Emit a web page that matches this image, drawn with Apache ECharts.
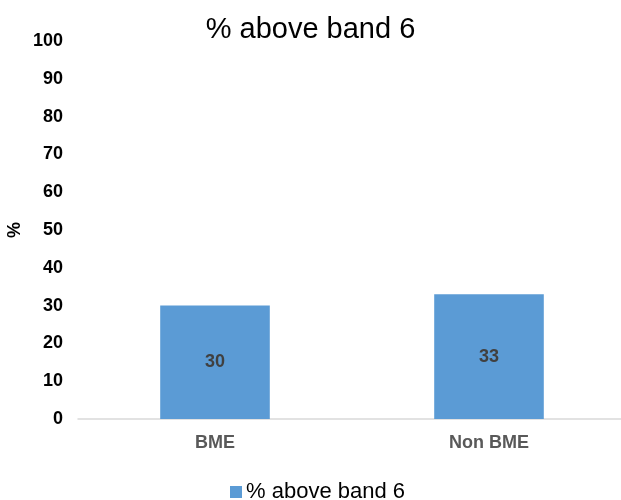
<!DOCTYPE html>
<html><head><meta charset="utf-8">
<script src="https://cdn.jsdelivr.net/npm/echarts@6/dist/echarts.min.js"></script>
<style>html,body{margin:0;padding:0;background:#fff}#c{width:621px;height:500px}</style>
</head><body><div id="c"></div>
<script>
const categories = ['BME', 'Non BME'];
const seriesName = '% above band 6';
const values = [30, 33];
const yTicks = {min: 0, max: 100, interval: 10};

const chart = echarts.init(document.getElementById('c'), null, {renderer: 'canvas'});
chart.setOption({
  animation: false,
  title: {
    text: '% above band 6', left: 'center', top: 10,
    textStyle: {fontFamily: 'Liberation Sans, Arial', fontSize: 29, fontWeight: 'normal', color: '#000'}
  },
  legend: {
    data: [seriesName], bottom: -8, left: 225, itemWidth: 12, itemHeight: 12, itemGap: 6,
    icon: 'rect',
    textStyle: {fontFamily: 'Liberation Sans, Arial', fontSize: 22, color: '#000', padding: [0,0,0,-1]}
  },
  grid: {left: 78, right: -5, top: 41, bottom: 81, containLabel: false, outerBoundsMode: 'none'},
  xAxis: {
    type: 'category', data: categories,
    axisLine: {lineStyle: {color: '#d9d9d9', width: 1.5}},
    axisTick: {show: false},
    axisLabel: {fontFamily: 'Liberation Sans, Arial', fontSize: 18, fontWeight: 'bold', color: '#595959', margin: 15}
  },
  yAxis: {
    type: 'value', min: yTicks.min, max: yTicks.max, interval: yTicks.interval,
    name: '%', nameLocation: 'middle', nameGap: 54, nameRotate: 90, nameMoveOverlap: false,
    nameTextStyle: {fontFamily: 'Liberation Sans, Arial', fontSize: 18, fontWeight: 'bold', color: '#000'},
    axisLine: {show: false}, axisTick: {show: false}, splitLine: {show: false},
    axisLabel: {fontFamily: 'Liberation Sans, Arial', fontSize: 18, fontWeight: 'bold', color: '#000', margin: 15}
  },
  series: [{
    name: seriesName, type: 'bar', data: values, barWidth: '40%',
    itemStyle: {color: '#5b9bd5'},
    label: {show: true, position: 'inside', fontFamily: 'Liberation Sans, Arial', fontSize: 18, fontWeight: 'bold', color: '#404040'}
  }]
});
</script></body></html>
